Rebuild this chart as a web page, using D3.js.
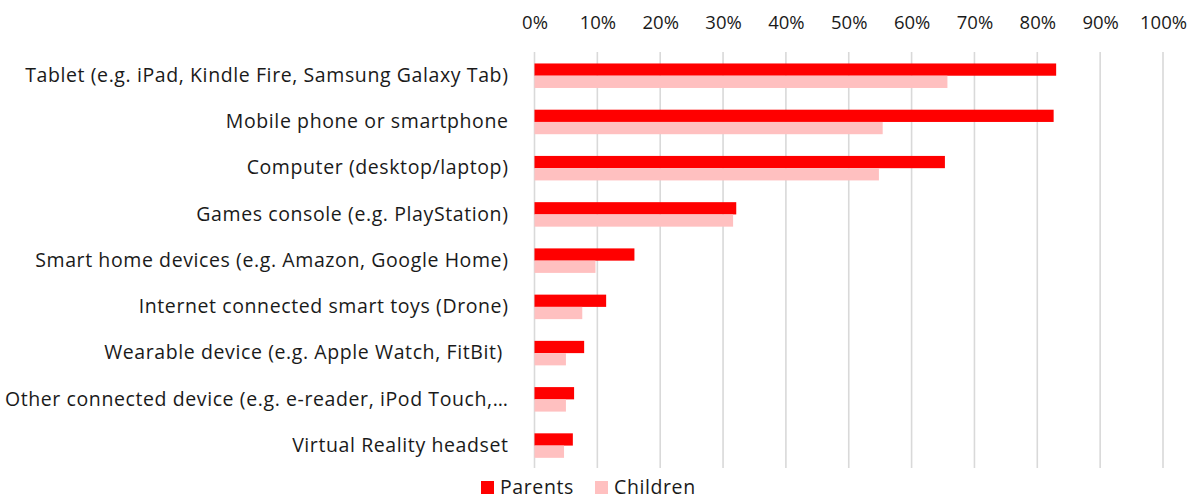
<!DOCTYPE html>
<html>
<head>
<meta charset="utf-8">
<script src="https://cdn.jsdelivr.net/npm/d3@7"></script>
<style>
  html, body { margin: 0; padding: 0; background: #fff; }
  svg { display: block; }
  text { font-family: "Open Sans", "Noto Sans", sans-serif; fill: #1a1a1a; }
</style>
</head>
<body>
<svg id="chart" width="1199" height="499"></svg>
<script>
// Device ownership, share of respondents
const categories = [
  "Tablet (e.g. iPad, Kindle Fire, Samsung Galaxy Tab)",
  "Mobile phone or smartphone",
  "Computer (desktop/laptop)",
  "Games console (e.g. PlayStation)",
  "Smart home devices (e.g. Amazon, Google Home)",
  "Internet connected smart toys (Drone)",
  "Wearable device (e.g. Apple Watch, FitBit) ",
  "Other connected device (e.g. e-reader, iPod Touch,…",
  "Virtual Reality headset"
];
const parents  = [0.830, 0.826, 0.653, 0.321, 0.159, 0.114, 0.079, 0.063, 0.061];
const children = [0.657, 0.554, 0.548, 0.316, 0.097, 0.076, 0.050, 0.050, 0.047];
const seriesNames = ["Parents", "Children"];
const tickValues = [0, 0.1, 0.2, 0.3, 0.4, 0.5, 0.6, 0.7, 0.8, 0.9, 1.0];

const colors = { Parents: "#ff0000", Children: "#ffc0c0" };
const FONT = "'Open Sans', 'Noto Sans', sans-serif";
const FS = 19.5;
const SPACING = "0.6px";

const svg = d3.select("#chart");

const x = d3.scaleLinear().domain([0, 1]).range([534.5, 1163]);
const y = d3.scaleBand()
  .domain(categories)
  .range([52.6, 468.7])
  .paddingInner(0.47)
  .paddingOuter(0.235);
const ySub = d3.scaleBand().domain(seriesNames).range([0, y.bandwidth()]);

// vertical gridlines
svg.append("g")
  .selectAll("line")
  .data(tickValues)
  .join("line")
  .attr("x1", d => x(d)).attr("x2", d => x(d))
  .attr("y1", 52).attr("y2", 468)
  .attr("stroke", "#d9d9d9")
  .attr("stroke-width", 1.6);

// top axis labels
const xAxis = d3.axisTop(x)
  .tickValues(tickValues)
  .tickFormat(d3.format(".0%"))
  .tickSize(0)
  .tickPadding(0);
const gx = svg.append("g")
  .attr("transform", "translate(0,29)")
  .call(xAxis);
gx.select(".domain").remove();
gx.selectAll("text")
  .attr("font-size", 18.5)
  .attr("fill", "#1a1a1a")
  .style("font-family", FONT);

// category labels (white-space kept so trailing spaces still count)
const yAxis = d3.axisLeft(y).tickSize(0).tickPadding(26);
const gy = svg.append("g")
  .attr("transform", `translate(${x(0)},0)`)
  .call(yAxis);
gy.select(".domain").remove();
gy.selectAll("text")
  .attr("font-size", FS)
  .attr("fill", "#1a1a1a")
  .style("font-family", FONT)
  .style("letter-spacing", SPACING)
  .style("white-space", "pre");

// bars
const rows = categories.map((c, i) => ({ c, Parents: parents[i], Children: children[i] }));
const groups = svg.append("g")
  .selectAll("g")
  .data(rows)
  .join("g")
  .attr("transform", d => `translate(0,${y(d.c)})`);

groups.selectAll("rect")
  .data(d => seriesNames.map(s => ({ s, v: d[s] })))
  .join("rect")
  .attr("x", x(0))
  .attr("y", d => ySub(d.s))
  .attr("width", d => x(d.v) - x(0))
  .attr("height", ySub.bandwidth())
  .attr("fill", d => colors[d.s]);

// legend
const legendItems = [
  { s: "Parents", x: 481 },
  { s: "Children", x: 595 }
];
const lg = svg.append("g");
const li = lg.selectAll("g").data(legendItems).join("g")
  .attr("transform", d => `translate(${d.x},481)`);
li.append("rect").attr("width", 13).attr("height", 13).attr("fill", d => colors[d.s]);
li.append("text")
  .attr("x", 19).attr("y", 12.5)
  .attr("font-size", FS)
  .style("font-family", FONT)
  .style("letter-spacing", SPACING)
  .text(d => d.s);
</script>
</body>
</html>
